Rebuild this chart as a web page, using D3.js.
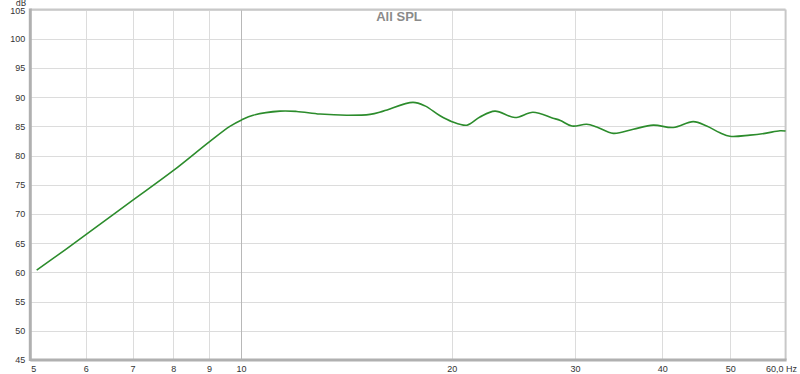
<!DOCTYPE html>
<html><head><meta charset="utf-8">
<script src="https://cdn.jsdelivr.net/npm/d3@7"></script>
<style>
body{margin:0;background:#fff;}
svg{display:block;font-family:"DejaVu Sans",Tahoma,sans-serif;}
</style></head>
<body><svg id="c" width="800" height="374"></svg>
<script>
const title = "All SPL";
const yUnit = "dB";
const freqs = [5.106,5.51,6.01,6.96,8.0,9.0,9.64,10.02,10.41,11.37,12.01,12.97,14.16,15.29,15.97,17.61,18.32,19.25,20.02,21.03,21.95,23.06,24.63,26.13,27.91,28.6,29.71,31.18,32.23,34.03,36.35,38.82,41.46,44.28,46.28,48.35,49.96,53.36,56.06,58.89,60];
const spl = [60.39,63.2,66.5,72.1,77.4,82.3,85.0,86.1,86.9,87.6,87.55,87.1,86.9,87.05,87.6,89.1,88.5,86.8,85.8,85.2,86.6,87.6,86.5,87.4,86.4,86.0,85.05,85.35,84.9,83.8,84.5,85.2,84.8,85.8,85.05,83.9,83.3,83.5,83.8,84.25,84.2];
const xTicks = [5,6,7,8,9,10,20,30,40,50,60];
const xTickLabels = ["5","6","7","8","9","10","20","30","40","50","60,0 Hz"];
const yTicks = [45,50,55,60,65,70,75,80,85,90,95,100,105];

const svg = d3.select("#c");
const L = 30.3, R = 785.6, T = 9.5, B = 360;
const x = d3.scaleLog().domain([5,60]).range([L,R]);
const y = d3.scaleLinear().domain([45,105]).range([B,T]);

// gridlines
svg.append("g").selectAll("line").data(yTicks).join("line")
  .attr("x1",L).attr("x2",R).attr("y1",d=>Math.round(y(d))+0.5).attr("y2",d=>Math.round(y(d))+0.5)
  .attr("stroke","#dcdcdc").attr("stroke-width",1);
svg.append("g").selectAll("line").data(xTicks.slice(1,-1)).join("line")
  .attr("y1",T).attr("y2",B).attr("x1",d=>Math.round(x(d))+0.5).attr("x2",d=>Math.round(x(d))+0.5)
  .attr("stroke",d=>d===10?"#b8b8b8":"#dcdcdc").attr("stroke-width",1);

// frame
svg.append("line").attr("x1",L).attr("x2",R).attr("y1",T).attr("y2",T).attr("stroke","#c8c8c8").attr("stroke-width",2);
svg.append("line").attr("x1",R).attr("x2",R).attr("y1",T).attr("y2",B).attr("stroke","#c8c8c8").attr("stroke-width",2);
svg.append("line").attr("x1",L).attr("x2",L).attr("y1",T-1).attr("y2",B+1).attr("stroke","#b0b0b0").attr("stroke-width",3);
svg.append("line").attr("x1",L).attr("x2",R+1).attr("y1",B).attr("y2",B).attr("stroke","#b0b0b0").attr("stroke-width",3);

// y axis labels
const yAxis = d3.axisLeft(y).tickValues(yTicks).tickSize(0).tickPadding(4);
const gy = svg.append("g").attr("transform",`translate(${L-1},0)`).call(yAxis);
gy.select(".domain").remove();
gy.selectAll("text").attr("font-size",9).attr("fill","#333");
gy.selectAll(".tick").filter(d=>d===105).select("text").attr("dy","0.42em");

// x axis labels
const xAxis = d3.axisBottom(x).tickValues(xTicks).tickSize(0).tickPadding(6)
  .tickFormat((d,i)=>xTickLabels[i]);
const gx = svg.append("g").attr("transform",`translate(0,${B})`).call(xAxis);
gx.select(".domain").remove();
gx.selectAll("text").attr("font-size",9).attr("fill","#333");
gx.selectAll(".tick").filter(d=>d===5).select("text").attr("dx",3);
gx.selectAll(".tick").filter(d=>d===60).select("text").attr("text-anchor","end").attr("dx",11);

svg.append("text").attr("x",L-4).attr("y",6).attr("text-anchor","end")
  .attr("font-size",8).attr("fill","#333").text(yUnit);

svg.append("text").attr("x",399).attr("y",21).attr("text-anchor","middle")
  .attr("font-size",13).attr("font-weight","bold").attr("fill","#8a8a8a")
  .attr("font-family","Liberation Sans, Arial, sans-serif").text(title);

// curve
const pts = freqs.map((f,i)=>[f,spl[i]]);
svg.append("path").datum(pts)
  .attr("d", d3.line().x(d=>x(d[0])).y(d=>y(d[1])).curve(d3.curveCatmullRom.alpha(0.5)))
  .attr("fill","none").attr("stroke","#2c8c2c").attr("stroke-width",1.6);
</script></body></html>
